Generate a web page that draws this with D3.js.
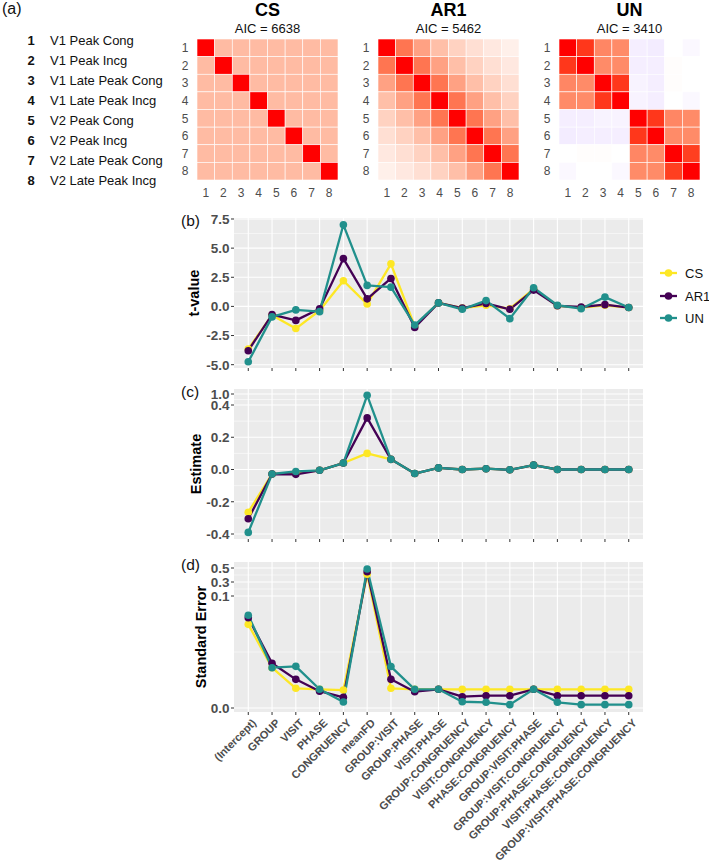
<!DOCTYPE html>
<html><head><meta charset="utf-8">
<script src="https://cdn.jsdelivr.net/npm/d3@7"></script>
<style>
body{margin:0;background:#fff;}
svg{display:block;font-family:"Liberation Sans",Arial,Helvetica,sans-serif;}
</style>
</head><body>
<svg id="chart" width="709" height="861"></svg>
<script>
// ---------------- DATA ----------------
const structures = ["CS", "AR1", "UN"];
const aicValues = [6638, 5462, 3410];
const matrixIndexLabels = ["1","2","3","4","5","6","7","8"];
const conditionLabels = ["V1 Peak Cong","V1 Peak Incg","V1 Late Peak Cong","V1 Late Peak Incg",
                         "V2 Peak Cong","V2 Peak Incg","V2 Late Peak Cong","V2 Late Peak Incg"];

const csMatrix = [
  [1.00,0.36,0.36,0.36,0.36,0.36,0.36,0.36],
  [0.36,1.00,0.36,0.36,0.36,0.36,0.36,0.36],
  [0.36,0.36,1.00,0.36,0.36,0.36,0.36,0.36],
  [0.36,0.36,0.36,1.00,0.36,0.36,0.36,0.36],
  [0.36,0.36,0.36,0.36,1.00,0.36,0.36,0.36],
  [0.36,0.36,0.36,0.36,0.36,1.00,0.36,0.36],
  [0.36,0.36,0.36,0.36,0.36,0.36,1.00,0.36],
  [0.36,0.36,0.36,0.36,0.36,0.36,0.36,1.00]
];
const ar1Matrix = [
  [1.00,0.70,0.49,0.34,0.24,0.17,0.12,0.08],
  [0.70,1.00,0.70,0.49,0.34,0.24,0.17,0.12],
  [0.49,0.70,1.00,0.70,0.49,0.34,0.24,0.17],
  [0.34,0.49,0.70,1.00,0.70,0.49,0.34,0.24],
  [0.24,0.34,0.49,0.70,1.00,0.70,0.49,0.34],
  [0.17,0.24,0.34,0.49,0.70,1.00,0.70,0.49],
  [0.12,0.17,0.24,0.34,0.49,0.70,1.00,0.70],
  [0.08,0.12,0.17,0.24,0.34,0.49,0.70,1.00]
];
const unMatrix = [
  [ 1.00, 0.92, 0.62, 0.60,-0.07,-0.08, 0.00,-0.03],
  [ 0.92, 1.00, 0.60, 0.60,-0.07,-0.07, 0.01, 0.00],
  [ 0.62, 0.60, 1.00, 0.92,-0.05,-0.07, 0.01, 0.00],
  [ 0.60, 0.60, 0.92, 1.00,-0.05,-0.07, 0.00,-0.03],
  [-0.07,-0.07,-0.05,-0.05, 1.00, 0.92, 0.62, 0.60],
  [-0.08,-0.07,-0.07,-0.07, 0.92, 1.00, 0.60, 0.60],
  [ 0.00, 0.01, 0.01, 0.00, 0.62, 0.60, 1.00, 0.90],
  [-0.03, 0.00, 0.00,-0.03, 0.60, 0.60, 0.90, 1.00]
];

const terms = ["(Intercept)","GROUP","VISIT","PHASE","CONGRUENCY","meanFD","GROUP:VISIT",
  "GROUP:PHASE","VISIT:PHASE","GROUP:CONGRUENCY","VISIT:CONGRUENCY","PHASE:CONGRUENCY",
  "GROUP:VISIT:PHASE","GROUP:VISIT:CONGRUENCY","GROUP:PHASE:CONGRUENCY",
  "VISIT:PHASE:CONGRUENCY","GROUP:VISIT:PHASE:CONGRUENCY"];

const tValueCS  = [-3.65,-0.75,-1.90,-0.35, 2.20, 0.20, 3.65,-1.70, 0.30,-0.15, 0.10,-0.20, 1.50, 0.05,-0.10, 0.10,-0.10];
const tValueAR1 = [-3.80,-0.70,-1.20,-0.20, 4.10, 0.65, 2.40,-1.80, 0.30,-0.15, 0.25,-0.25, 1.40, 0.05,-0.05, 0.15,-0.10];
const tValueUN  = [-4.75,-0.90,-0.30,-0.45, 7.00, 1.80, 1.65,-1.60, 0.30,-0.25, 0.50,-1.05, 1.60, 0.10,-0.20, 0.80,-0.10];

const estimateCS  = [-0.265,-0.028,-0.022,-0.005,0.040,0.100,0.063,-0.025,0.010,0.000,0.005,-0.002,0.027,0.000,0.000,0.000,0.000];
const estimateAR1 = [-0.305,-0.028,-0.030,-0.005,0.040,0.320,0.063,-0.025,0.010,0.000,0.005,-0.002,0.027,0.000,0.000,0.000,0.000];
const estimateUN  = [-0.390,-0.028,-0.012,-0.005,0.040,0.930,0.063,-0.025,0.010,0.000,0.005,-0.002,0.027,0.000,0.000,0.000,0.000];

const stdErrCS  = [0.0747,0.0360,0.0176,0.0167,0.0160,0.410,0.0176,0.0167,0.0167,0.0167,0.0167,0.0167,0.0167,0.0167,0.0167,0.0167,0.0167];
const stdErrAR1 = [0.0806,0.0400,0.0256,0.0150,0.0095,0.447,0.0256,0.0146,0.0167,0.0101,0.0110,0.0110,0.0167,0.0110,0.0110,0.0110,0.0110];
const stdErrUN  = [0.0828,0.0360,0.0372,0.0167,0.0054,0.486,0.0370,0.0167,0.0167,0.0056,0.0051,0.0030,0.0167,0.0051,0.0030,0.0030,0.0030];

const seriesColors = ["#FDE725", "#440154", "#21908C"];

const tTicks = [-5, -2.5, 0, 2.5, 5, 7.5];
const tMinor = [-3.75, -1.25, 1.25, 3.75, 6.25];
const estTicks = [-0.4, -0.2, 0, 0.2, 0.4, 1.0];
const estMinor = [-0.3, -0.1, 0.1, 0.3, 0.7];
const seTicks = [0, 0.1, 0.3, 0.5];
const seMinor = [0.05, 0.2, 0.4];

// ---------------- DRAW ----------------
const svg = d3.select("#chart");
const fmt1 = v => v.toFixed(1);

// (a) label and condition list
svg.append("text").attr("x", 2).attr("y", 14).attr("font-size", 16).attr("fill", "#111").text("(a)");
const list = svg.append("g");
conditionLabels.forEach((lab, i) => {
  const y = 45 + i * 20;
  list.append("text").attr("x", 31).attr("y", y).attr("text-anchor", "middle")
    .attr("font-size", 13).attr("font-weight", "bold").attr("fill", "#111").text(matrixIndexLabels[i]);
  list.append("text").attr("x", 50).attr("y", y).attr("font-size", 13).attr("fill", "#111").text(lab);
});

// heatmaps
const heatColor = v => v >= 0 ? d3.interpolateLab("#ffffff", "#ff0000")(v)
                              : d3.interpolateLab("#ffffff", "#0000ff")(-v);
const matrices = [csMatrix, ar1Matrix, unMatrix];
const heatLefts = [197, 378, 559];
const heatSize = 141, heatTop = 39;
matrices.forEach((m, k) => {
  const g = svg.append("g");
  const x = d3.scaleBand().domain(matrixIndexLabels).range([heatLefts[k], heatLefts[k] + heatSize]);
  const y = d3.scaleBand().domain(matrixIndexLabels).range([heatTop, heatTop + heatSize]);
  const cells = [];
  m.forEach((row, r) => row.forEach((v, c) => cells.push({r: matrixIndexLabels[r], c: matrixIndexLabels[c], v})));
  g.selectAll("rect").data(cells).join("rect")
    .attr("x", d => x(d.c)).attr("y", d => y(d.r))
    .attr("width", x.bandwidth()).attr("height", y.bandwidth())
    .attr("fill", d => heatColor(d.v)).attr("stroke", "#ffffff").attr("stroke-width", 0.6);
  matrixIndexLabels.forEach(l => {
    g.append("text").attr("x", heatLefts[k] - 8.5).attr("y", y(l) + y.bandwidth() / 2).attr("dy", "0.35em")
      .attr("text-anchor", "end").attr("font-size", 12).attr("fill", "#4d4d4d").text(l);
    g.append("text").attr("x", x(l) + x.bandwidth() / 2).attr("y", 197)
      .attr("text-anchor", "middle").attr("font-size", 12).attr("fill", "#4d4d4d").text(l);
  });
  const cx = heatLefts[k] + heatSize / 2;
  g.append("text").attr("x", cx).attr("y", 16).attr("text-anchor", "middle")
    .attr("font-size", 18).attr("font-weight", "bold").attr("fill", "#000").text(structures[k]);
  g.append("text").attr("x", cx).attr("y", 33).attr("text-anchor", "middle")
    .attr("font-size", 13).attr("fill", "#111").text("AIC = " + aicValues[k]);
});

// line panels
const x = d3.scalePoint().domain(terms).range([234, 643]).padding(0.6);
const plotLeft = 234, plotRight = 643;

function drawPanel(opts) {
  const {top, bottom, y, ticks, minor, label, title, titleX, series, xLabels} = opts;
  const g = svg.append("g");
  g.append("rect").attr("x", plotLeft).attr("y", top).attr("width", plotRight - plotLeft)
    .attr("height", bottom - top).attr("fill", "#EBEBEB");
  minor.forEach(v => g.append("line").attr("x1", plotLeft).attr("x2", plotRight)
    .attr("y1", y(v)).attr("y2", y(v)).attr("stroke", "#fff").attr("stroke-width", 0.55));
  ticks.forEach(v => g.append("line").attr("x1", plotLeft).attr("x2", plotRight)
    .attr("y1", y(v)).attr("y2", y(v)).attr("stroke", "#fff").attr("stroke-width", 1.1));
  terms.forEach(t => g.append("line").attr("x1", x(t)).attr("x2", x(t))
    .attr("y1", top).attr("y2", bottom).attr("stroke", "#fff").attr("stroke-width", 1.1));
  // y axis
  ticks.forEach(v => {
    g.append("line").attr("x1", plotLeft - 3).attr("x2", plotLeft).attr("y1", y(v)).attr("y2", y(v))
      .attr("stroke", "#333").attr("stroke-width", 1);
    g.append("text").attr("x", plotLeft - 4.5).attr("y", y(v)).attr("dy", "0.36em").attr("text-anchor", "end")
      .attr("font-size", 13.5).attr("font-weight", "bold").attr("fill", "#4d4d4d").text(fmt1(v));
  });
  // x ticks
  terms.forEach(t => g.append("line").attr("x1", x(t)).attr("x2", x(t)).attr("y1", bottom).attr("y2", bottom + 3)
    .attr("stroke", "#333").attr("stroke-width", 1));
  if (xLabels) {
    terms.forEach(t => g.append("text")
      .attr("transform", `translate(${x(t) + 3},${bottom + 6}) rotate(-45)`)
      .attr("text-anchor", "end").attr("dy", "0.72em")
      .attr("font-size", 11).attr("font-weight", "bold").attr("fill", "#4d4d4d").text(t));
  }
  // title
  const cy = (top + bottom) / 2;
  g.append("text").attr("transform", `translate(${titleX},${cy}) rotate(-90)`).attr("text-anchor", "middle")
    .attr("font-size", 14.5).attr("font-weight", "bold").attr("fill", "#000").text(title);
  g.append("text").attr("x", 181).attr("y", top + 8).attr("font-size", 15.5).attr("fill", "#111").text(label);
  // lines then points
  const line = d3.line().x((d, i) => x(terms[i])).y(d => y(d));
  series.forEach((s, k) => g.append("path").datum(s).attr("d", line).attr("fill", "none")
    .attr("stroke", seriesColors[k]).attr("stroke-width", 2.3).attr("stroke-linejoin", "round"));
  series.forEach((s, k) => g.selectAll(null).data(s).join("circle")
    .attr("cx", (d, i) => x(terms[i])).attr("cy", d => y(d)).attr("r", 3.8).attr("fill", seriesColors[k]));
}

// (b)
const yT = d3.scaleLinear().domain([-5.285, 7.585]).range([368, 218]);
drawPanel({top: 218, bottom: 368, y: yT, ticks: tTicks, minor: tMinor, label: "(b)", title: "t-value",
  titleX: 199, series: [tValueCS, tValueAR1, tValueUN]});
// (c)
const yE = d3.scaleLinear().domain([-0.4, 0.4, 1.0]).range([534, 405, 394]);
drawPanel({top: 389, bottom: 539, y: yE, ticks: estTicks, minor: estMinor, label: "(c)", title: "Estimate",
  titleX: 201, series: [estimateCS, estimateAR1, estimateUN]});
// (d)
const yS = d3.scaleLinear().domain([0, 0.1, 0.5]).range([708, 596, 568]);
drawPanel({top: 562, bottom: 712, y: yS, ticks: seTicks, minor: seMinor, label: "(d)", title: "Standard Error",
  titleX: 206, series: [stdErrCS, stdErrAR1, stdErrUN], xLabels: true});

// legend
const leg = svg.append("g");
structures.forEach((s, k) => {
  const ly = [273, 296, 318][k];
  leg.append("line").attr("x1", 660).attr("x2", 677).attr("y1", ly).attr("y2", ly)
    .attr("stroke", seriesColors[k]).attr("stroke-width", 2.3);
  leg.append("circle").attr("cx", 668.5).attr("cy", ly).attr("r", 3.8).attr("fill", seriesColors[k]);
  leg.append("text").attr("x", 685).attr("y", ly).attr("dy", "0.36em").attr("font-size", 13)
    .attr("fill", "#111").text(s);
});
</script>
</body></html>
